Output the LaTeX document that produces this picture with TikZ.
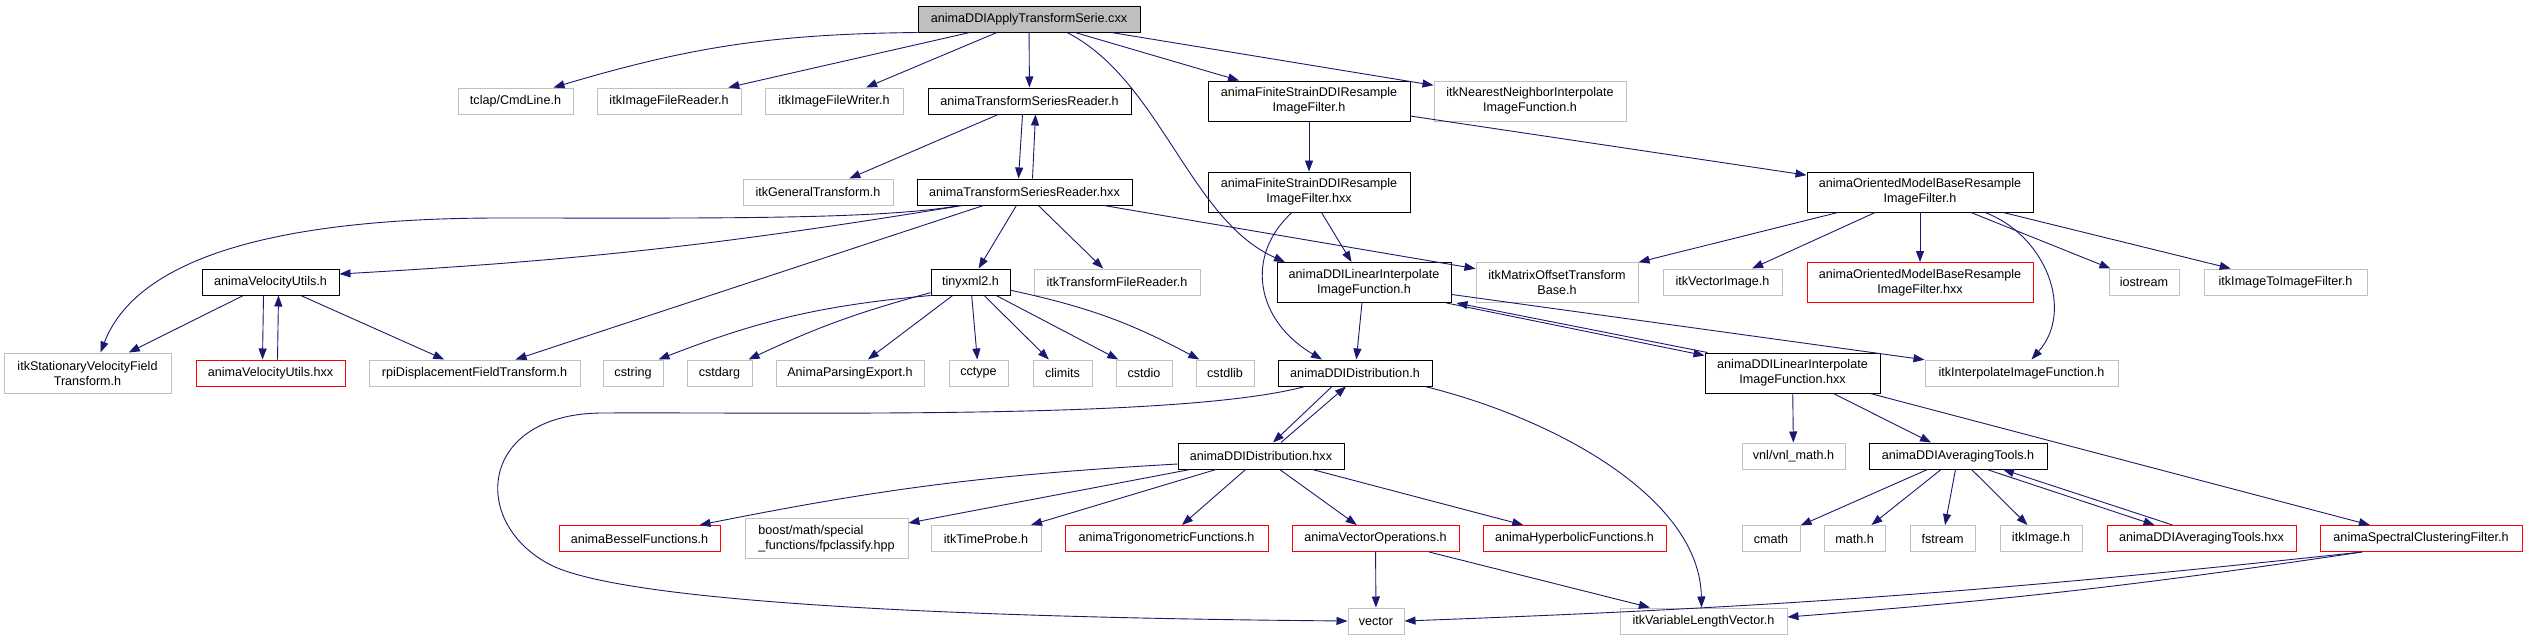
\documentclass[tikz,border=0pt]{standalone}
\usepackage{fontspec}
\setmainfont{Liberation Sans}
\usetikzlibrary{arrows.meta}
\definecolor{edgeblue}{HTML}{191970}
\definecolor{boxgray}{HTML}{BFBFBF}
\definecolor{missred}{HTML}{FF0000}
\tikzset{
    hdr/.style={draw=black,fill=white,line width=1pt,inner sep=0pt,align=center,minimum height=26pt,font=\fontsize{12.6}{15}\selectfont},
    ext/.style={hdr,draw=boxgray},
    miss/.style={hdr,draw=missred},
    src/.style={hdr,fill=boxgray},
    two/.style={minimum height=40pt},
    arrow/.style={-{Triangle[length=11pt,width=8pt]},draw=edgeblue,fill=none,line width=0.9pt}
}

\begin{document}
\begin{tikzpicture}[x=1pt,y=-1pt]
    \fill[white] (0,0) rectangle (2527,640);

    \node[src,minimum width=222pt] (root) at (1029,19) {animaDDIApplyTransformSerie.cxx};
    \node[ext,minimum width=115pt] (cmdline) at (515.5,101) {tclap/CmdLine.h};
    \node[ext,minimum width=144pt] (ifreader) at (669,101) {itkImageFileReader.h};
    \node[ext,minimum width=138pt] (ifwriter) at (834,101) {itkImageFileWriter.h};
    \node[hdr,minimum width=203pt] (tsr) at (1029.5,101) {animaTransformSeriesReader.h};
    \node[hdr,two,minimum width=202pt] (fsdh) at (1309,101) {animaFiniteStrainDDIResample\\ImageFilter.h};
    \node[ext,two,minimum width=192pt] (nnif) at (1530,101) {itkNearestNeighborInterpolate\\ImageFunction.h};

    \node[ext,minimum width=150pt] (gentr) at (818,192) {itkGeneralTransform.h};
    \node[hdr,minimum width=215pt] (tsrx) at (1024.5,192) {animaTransformSeriesReader.hxx};
    \node[hdr,two,minimum width=202pt] (fsdx) at (1309,192) {animaFiniteStrainDDIResample\\ImageFilter.hxx};
    \node[hdr,two,minimum width=226pt] (omb) at (1920,192) {animaOrientedModelBaseResample\\ImageFilter.h};

    \node[hdr,minimum width=137pt] (vel) at (270.5,282) {animaVelocityUtils.h};
    \node[hdr,minimum width=79pt] (tinyxml) at (970.5,282) {tinyxml2.h};
    \node[ext,minimum width=166pt] (tfreader) at (1117,282) {itkTransformFileReader.h};
    \node[hdr,two,minimum width=174pt] (ddilin) at (1364,282.5) {animaDDILinearInterpolate\\ImageFunction.h};
    \node[ext,two,minimum width=162pt] (mobase) at (1557,282.5) {itkMatrixOffsetTransform\\Base.h};
    \node[ext,minimum width=119pt] (vecimg) at (1722.5,282) {itkVectorImage.h};
    \node[miss,two,minimum width=226pt] (ombx) at (1920,282.5) {animaOrientedModelBaseResample\\ImageFilter.hxx};
    \node[ext,minimum width=70pt] (iostream) at (2144,282) {iostream};
    \node[ext,minimum width=163pt] (imgtoimg) at (2285.5,282) {itkImageToImageFilter.h};

    \node[ext,two,minimum width=167pt] (svf) at (87.5,373) {itkStationaryVelocityField\\Transform.h};
    \node[miss,minimum width=149pt] (velx) at (270.5,373) {animaVelocityUtils.hxx};
    \node[ext,minimum width=211pt] (rpi) at (474.5,373) {rpiDisplacementFieldTransform.h};
    \node[ext,minimum width=60pt] (cstring) at (633,373) {cstring};
    \node[ext,minimum width=65pt] (cstdarg) at (719.5,373) {cstdarg};
    \node[ext,minimum width=148pt] (parsing) at (850,373) {AnimaParsingExport.h};
    \node[ext,minimum width=59pt] (cctype) at (978.5,373) {cctype};
    \node[ext,minimum width=59pt] (climits) at (1062.5,373) {climits};
    \node[ext,minimum width=56pt] (cstdio) at (1144,373) {cstdio};
    \node[ext,minimum width=58pt] (cstdlib) at (1225,373) {cstdlib};
    \node[hdr,minimum width=154pt] (dist) at (1355,373) {animaDDIDistribution.h};
    \node[hdr,two,minimum width=175pt] (ddilinx) at (1792.5,373) {animaDDILinearInterpolate\\ImageFunction.hxx};
    \node[ext,minimum width=193pt] (interp) at (2021.5,373) {itkInterpolateImageFunction.h};

    \node[hdr,minimum width=166pt] (distx) at (1261,456) {animaDDIDistribution.hxx};
    \node[ext,minimum width=103pt] (vnlmath) at (1793.5,456) {vnl/vnl\_math.h};
    \node[hdr,minimum width=178pt] (avg) at (1958,456) {animaDDIAveragingTools.h};

    \node[miss,minimum width=161pt] (bessel) at (639.5,538.5) {animaBesselFunctions.h};
    \node[ext,two,align=left,minimum width=163pt] (fpclass) at (826.5,538.5) {boost/math/special\\\_functions/fpclassify.hpp};
    \node[ext,minimum width=110pt] (timeprobe) at (986,538.5) {itkTimeProbe.h};
    \node[miss,minimum width=203pt] (trig) at (1166.5,538.5) {animaTrigonometricFunctions.h};
    \node[miss,minimum width=167pt] (vecops) at (1375.5,538.5) {animaVectorOperations.h};
    \node[miss,minimum width=183pt] (hyper) at (1574.5,538.5) {animaHyperbolicFunctions.h};
    \node[ext,minimum width=58pt] (cmath) at (1771,538.5) {cmath};
    \node[ext,minimum width=61pt] (mathh) at (1854.5,538.5) {math.h};
    \node[ext,minimum width=65pt] (fstream) at (1942.5,538.5) {fstream};
    \node[ext,minimum width=82pt] (itkimage) at (2041,538.5) {itkImage.h};
    \node[miss,minimum width=189pt] (avgx) at (2201.5,538.5) {animaDDIAveragingTools.hxx};
    \node[miss,minimum width=202pt] (spectral) at (2421,538.5) {animaSpectralClusteringFilter.h};

    \node[ext,minimum width=56pt] (vector) at (1376,621) {vector};
    \node[ext,minimum width=167pt] (varlen) at (1703.5,621) {itkVariableLengthVector.h};

    % includes of the .cxx
    \draw[arrow] (root.south west) to[bend right=8] ([xshift=38]cmdline.north);
    \foreach \b in {ifreader,ifwriter,tsr,fsdh,nnif} {\draw[arrow] (root)--(\b);}
    \draw[arrow] ([xshift=38]root.south) .. controls (1160,80) and (1190,220) .. ([xshift=-79]ddilin.north);

    % transform series reader
    \draw[arrow] (tsr)--(gentr);
    \draw[arrow] ([xshift=-7]tsr.south) -- ([xshift=-6]tsrx.north);
    \draw[arrow] ([xshift=8]tsrx.north) -- ([xshift=6]tsr.south);
    \foreach \b in {tinyxml,tfreader,rpi,mobase} {\draw[arrow] (tsrx)--(\b);}
    \draw[arrow] ([xshift=-62]tsrx.south) to[bend left=3] ([yshift=8]vel.east);
    \draw[arrow] ([xshift=-65]tsrx.south) .. controls (880,220) and (700,218) .. (500,218)
        .. controls (300,218) and (140,250) .. ([xshift=13]svf.north);

    % velocity utils
    \draw[arrow] (vel)--(svf);
    \draw[arrow] ([xshift=-7]vel.south) -- ([xshift=-8]velx.north);
    \draw[arrow] ([xshift=7]velx.north) -- ([xshift=8]vel.south);
    \draw[arrow] (vel)--(rpi);

    % tinyxml2
    \draw[arrow] (tinyxml.south west) to[bend right=8] ([xshift=-5]cstring.north east);
    \draw[arrow] (tinyxml) to[bend right=5] (cstdarg);
    \foreach \b in {parsing,cctype,climits,cstdio} {\draw[arrow] (tinyxml)--(\b);}
    \draw[arrow] (tinyxml) to[bend left=8] (cstdlib);

    % finite strain filter
    \draw[arrow] (fsdh)--(fsdx);
    \draw[arrow] (fsdh)--(omb);
    \draw[arrow] (fsdx)--(ddilin);
    \draw[arrow] ([xshift=-17]fsdx.south) .. controls (1245,255) and (1255,320) .. ([xshift=-33]dist.north);

    % oriented model filter
    \foreach \b in {mobase,vecimg,ombx,iostream,imgtoimg} {\draw[arrow] (omb)--(\b);}
    \draw[arrow] ([xshift=65]omb.south) .. controls (2045,235) and (2075,310) .. ([xshift=10]interp.north);

    % linear interpolate function
    \draw[arrow] (ddilin)--(dist);
    \draw[arrow] ([xshift=-5]ddilin.south east) -- ([yshift=-3]ddilinx.north west);
    \draw[arrow] ([xshift=3]ddilinx.north west) -- ([xshift=5]ddilin.south east);
    \draw[arrow] (ddilin)--(interp);
    \foreach \b in {vnlmath,avg,spectral} {\draw[arrow] (ddilinx)--(\b);}

    % distribution
    \draw[arrow] ([xshift=-23]dist.south) -- ([xshift=12]distx.north);
    \draw[arrow] ([xshift=20]distx.north) -- ([xshift=-9]dist.south);
    \draw[arrow] ([xshift=-50]dist.south) .. controls (1180,420) and (800,412) .. (600,413)
        .. controls (480,415) and (470,520) .. (547,563)
        .. controls (620,605) and (1000,618) .. (vector.west);
    \draw[arrow] ([xshift=70]dist.south) .. controls (1560,420) and (1700,500) .. ([xshift=-2]varlen.north);

    \draw[arrow] ([yshift=-8]distx.west) to[bend right=4] ([xshift=60]bessel.north);
    \foreach \b in {fpclass,timeprobe,trig,vecops,hyper} {\draw[arrow] (distx)--(\b);}
    \draw[arrow] (vecops)--(vector);
    \draw[arrow] (vecops)--(varlen);

    % averaging tools
    \foreach \b in {cmath,mathh,fstream,itkimage} {\draw[arrow] (avg)--(\b);}
    \draw[arrow] ([xshift=29]avg.south) -- ([xshift=-47]avgx.north);
    \draw[arrow] ([xshift=-29]avgx.north) -- ([xshift=45]avg.south);
    \draw[arrow] ([xshift=-59]spectral.south) to[bend left=2] (vector.east);
    \draw[arrow] ([xshift=-59]spectral.south) to[bend left=2] ([yshift=4]varlen.east);
\end{tikzpicture}
\end{document}
